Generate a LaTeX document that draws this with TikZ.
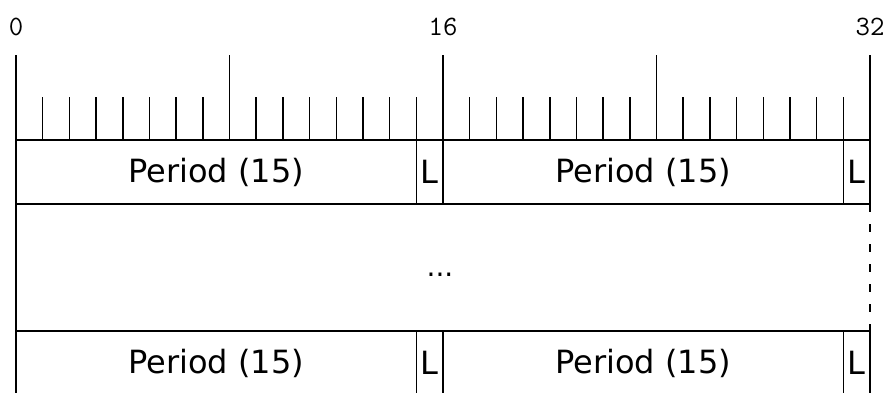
\documentclass[tikz,border=0pt]{standalone}
\usepackage{fontspec}
\setmainfont{DejaVu Sans}
\usetikzlibrary{positioning}

\def\bitw{26.6875}
\tikzset{
  field/.style={draw, line width=1.5pt, outer sep=0pt, inner sep=0pt,
    minimum height=64pt, anchor=north west, font=\fontsize{32}{38}\selectfont},
  period/.style={field, minimum width={15*\bitw pt}},
  lastbit/.style={field, minimum width={\bitw pt}},
  tick/.style={line width=1.5pt},
  bitlabel/.style={font=\ttfamily\fontsize{28}{32}\selectfont, inner sep=0pt},
}

\begin{document}
\begin{tikzpicture}[x=1pt, y=-1pt]
  \useasboundingbox (0,0) rectangle (886,392);
  % bit ruler
  \foreach \b in {0,...,32}{
    \pgfmathsetmacro{\tx}{16+\b*\bitw}
    \pgfmathsetmacro{\ty}{ifthenelse(mod(\b,8)==0,55,97)}
    \draw[tick] (\tx,140) -- (\tx,\ty);
  }
  \foreach \b in {0,16,32}
    \node[bitlabel] (n\b) at ({16+\b*\bitw},27) {\b};
  % first word
  \node[period] (pa) at (16,140) {Period (15)};
  \node[lastbit, right=0pt of pa] (la) {L};
  \node[period, right=0pt of la] (pb) {Period (15)};
  \node[lastbit, right=0pt of pb] (lb) {L};
  % last word
  \node[period] (pc) at (16,331) {Period (15)};
  \node[lastbit, right=0pt of pc] (lc) {L};
  \node[period, right=0pt of lc] (pd) {Period (15)};
  \node[lastbit, right=0pt of pd] (ld) {L};
  % words in between
  \draw[tick] (pa.south west) -- (pc.north west);
  \draw[tick, dash pattern=on 8pt off 12pt] (lb.south east) -- (ld.north east);
  \node[font=\fontsize{28}{34}\selectfont] (dots) at (440,275) {...};
\end{tikzpicture}
\end{document}
